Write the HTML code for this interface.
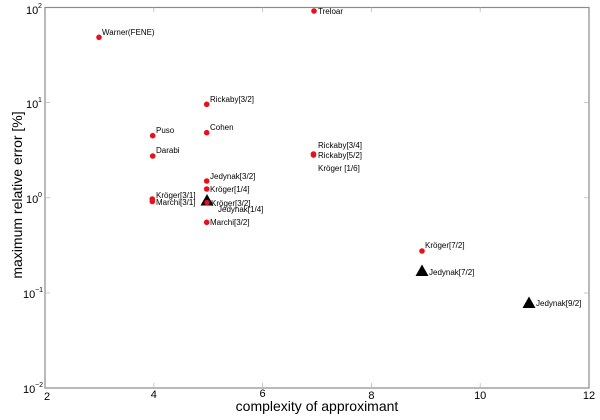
<!DOCTYPE html>
<html><head><meta charset="utf-8"><style>
html,body{margin:0;padding:0;background:#fff;}
svg{display:block;}
text{font-family:"Liberation Sans",sans-serif;}
</style></head><body>
<svg width="600" height="420" viewBox="0 0 600 420" xmlns="http://www.w3.org/2000/svg">
<rect width="600" height="420" fill="#fff"/>
<!-- axes box -->
<rect x="45" y="7.5" width="544" height="380.5" fill="none" stroke="#8a8a8a" stroke-width="1.2"/>
<!-- x ticks -->
<g stroke="#bbb" stroke-width="0.8">
<line x1="153.8" y1="388" x2="153.8" y2="383"/><line x1="153.8" y1="7.5" x2="153.8" y2="12"/>
<line x1="262.6" y1="388" x2="262.6" y2="383"/><line x1="262.6" y1="7.5" x2="262.6" y2="12"/>
<line x1="371.4" y1="388" x2="371.4" y2="383"/><line x1="371.4" y1="7.5" x2="371.4" y2="12"/>
<line x1="480.2" y1="388" x2="480.2" y2="383"/><line x1="480.2" y1="7.5" x2="480.2" y2="12"/>
<line x1="45" y1="102.6" x2="50" y2="102.6"/><line x1="589" y1="102.6" x2="584" y2="102.6"/>
<line x1="45" y1="197.8" x2="50" y2="197.8"/><line x1="589" y1="197.8" x2="584" y2="197.8"/>
<line x1="45" y1="293" x2="50" y2="293"/><line x1="589" y1="293" x2="584" y2="293"/>
</g>
<!-- tick labels -->
<g font-size="11" fill="#000">
<text x="47" y="400" text-anchor="middle">2</text>
<text x="153.8" y="398" text-anchor="middle">4</text>
<text x="262.6" y="397" text-anchor="middle">6</text>
<text x="371.4" y="399" text-anchor="middle">8</text>
<text x="480.2" y="399" text-anchor="middle">10</text>
<text x="589" y="399" text-anchor="middle">12</text>
<text x="26" y="14">10</text><text x="38" y="8" font-size="7">2</text>
<text x="26" y="108">10</text><text x="38" y="102" font-size="7">1</text>
<text x="26" y="203">10</text><text x="38" y="197" font-size="7">0</text>
<text x="23" y="298">10</text><text x="35" y="292" font-size="7">−1</text>
<text x="23" y="393">10</text><text x="35" y="387" font-size="7">−2</text>
</g>
<!-- axis labels -->
<text x="317" y="411" font-size="14" text-anchor="middle">complexity of approximant</text>
<text transform="translate(22,195) rotate(-90)" font-size="14" text-anchor="middle">maximum relative error [%]</text>
<!-- triangles -->
<g fill="#000">
<polygon points="207,194 213.5,205.5 200.5,205.5"/>
<polygon points="422,264.5 428.5,276 415.5,276"/>
<polygon points="529,296.5 535.5,308 522.5,308"/>
</g>
<!-- red points -->
<g fill="#e8101a">
<circle cx="99" cy="37.3" r="2.8"/>
<circle cx="314" cy="11" r="2.8"/>
<circle cx="206.7" cy="104.3" r="2.8"/>
<circle cx="206.7" cy="132.7" r="2.8"/>
<circle cx="152.7" cy="135.7" r="2.8"/>
<circle cx="152.7" cy="156" r="2.8"/>
<circle cx="206.7" cy="181" r="2.8"/>
<circle cx="206.7" cy="189" r="2.8"/>
<circle cx="152.3" cy="199" r="2.8"/>
<circle cx="152.3" cy="201.5" r="2.8"/>
<circle cx="207" cy="202.5" r="2.6"/>
<circle cx="206.7" cy="222.3" r="2.8"/>
<circle cx="313.5" cy="155" r="2.8"/>
<circle cx="313.5" cy="154" r="2.8"/>
<circle cx="422" cy="251" r="2.8"/>
</g>
<!-- point labels -->
<g font-size="8" fill="#000">
<text x="102" y="35">Warner(FENE)</text>
<text x="318" y="14">Treloar</text>
<text x="210" y="102">Rickaby[3/2]</text>
<text x="210" y="130">Cohen</text>
<text x="156" y="133">Puso</text>
<text x="156" y="153">Darabi</text>
<text x="210" y="179">Jedynak[3/2]</text>
<text x="210" y="192">Kröger[1/4]</text>
<text x="156" y="198">Kröger[3/1]</text>
<text x="156" y="205">Marchi[3/1]</text>
<text x="211" y="206">Kröger[3/2]</text>
<text x="218" y="212">Jedynak[1/4]</text>
<text x="210" y="225">Marchi[3/2]</text>
<text x="318" y="148">Rickaby[3/4]</text>
<text x="318" y="158">Rickaby[5/2]</text>
<text x="318" y="171">Kröger  [1/6]</text>
<text x="425" y="248">Kröger[7/2]</text>
<text x="429" y="275">Jedynak[7/2]</text>
<text x="536" y="306">Jedynak[9/2]</text>
</g>
</svg>
</body></html>
